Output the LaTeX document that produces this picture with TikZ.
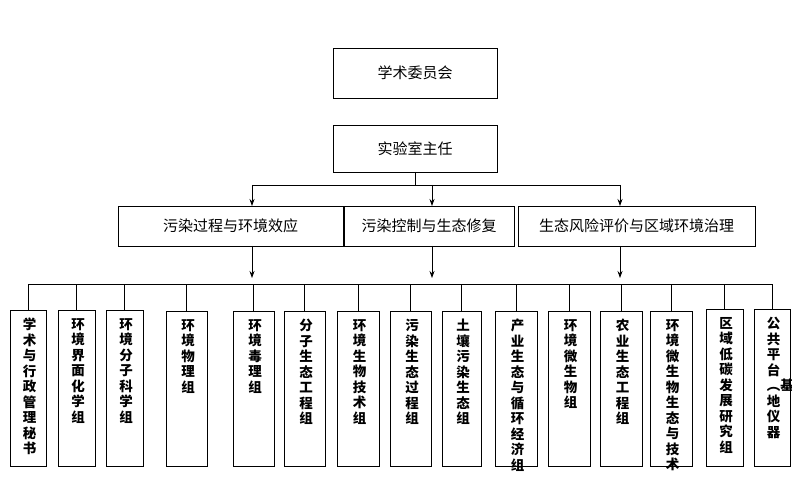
\documentclass[tikz,border=0pt]{standalone}
\usepackage{fontspec}
\setmainfont{Noto Sans CJK SC}
\XeTeXlinebreaklocale "zh"
\XeTeXlinebreakskip=0pt plus 1pt
\usetikzlibrary{arrows.meta}
\tikzset{
  box/.style={draw, thick, inner sep=0pt},
  lbl/.style={font=\fontsize{15}{17}\selectfont},
  col/.style={font=\fontsize{13.5}{15.5}\selectfont\bfseries, text width=1.05em, align=center, inner sep=0pt, anchor=north},
  arr/.style={-{Stealth[length=7pt,width=5pt]}},
}
\begin{document}
\begin{tikzpicture}[x=1pt,y=-1pt]
  \useasboundingbox (0,0) rectangle (792,494);
  % top levels
  \draw[box] (333,48) rectangle (497,98) node[midway, lbl] (com) {学术委员会};
  \draw[box] (333,125) rectangle (497,172) node[midway, lbl] (dir) {实验室主任};
  \coordinate (d0) at (415,172);
  \coordinate (d1) at (415,185);
  \draw[thick] (d0) -- (d1);
  \draw[thick] (252,185) -- (620,185);
  % middle row
  \draw[box] (118,206) rectangle (343,246) node[midway, lbl] (ma) {污染过程与环境效应};
  \draw[box] (344,206) rectangle (514,246) node[midway, lbl] (mb) {污染控制与生态修复};
  \draw[box] (518,206) rectangle (755,246) node[midway, lbl] (mc) {生态风险评价与区域环境治理};
  \foreach \x in {252,432,620} {
    \draw[thick, arr] (\x,185) -- (\x,206);
    \draw[thick, arr] (\x,246) -- (\x,278);
  }
  % bus
  \draw[thick] (28,284) -- (772,284);
  % groups
  \foreach \l/\r/\t/\n in {
    10/46/310/学术与行政管理秘书,
    58/95/310/环境界面化学组,
    106/143/310/环境分子科学组,
    166/207/311/环境物理组,
    233/274/311/环境毒理组,
    284/325/311/分子生态工程组,
    337/379/311/环境生物技术组,
    390/431/311/污染生态过程组,
    442/481/311/土壤污染生态组,
    495/537/311/产业生态与循环经济组,
    548/590/311/环境微生物组,
    600/642/311/农业生态工程组,
    650/692/311/环境微生物生态与技术,
    706/743/309/区域低碳发展研究组,
    754/790/309/公共平台︵基地仪器} {
    \draw[box] (\l,\t) rectangle (\r,466);
    \draw[thick] ({(\l+\r)/2},284) -- ({(\l+\r)/2},\t);
    \node[col] at ({(\l+\r)/2},\t+8) {\n};
  }
\end{tikzpicture}
\end{document}
